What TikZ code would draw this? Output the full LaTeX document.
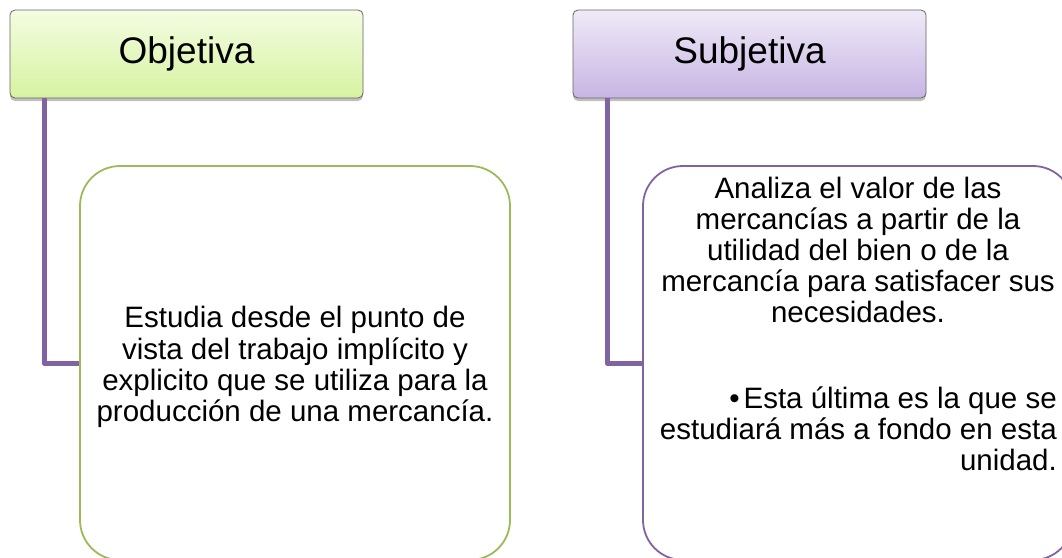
\documentclass[tikz,border=0pt]{standalone}
\usepackage{fontspec}
\setmainfont{Liberation Sans}
\usetikzlibrary{positioning,shadows}

\definecolor{linkpurple}{HTML}{8064A2}
\definecolor{leafgreen}{HTML}{9BBB59}
\definecolor{greentop}{HTML}{F4FCE2}
\definecolor{greenbot}{HTML}{D6F3A0}
\definecolor{purpletop}{HTML}{EFEAF7}
\definecolor{purplebot}{HTML}{C7B5E3}

\tikzset{
  head/.style={draw=black!60, line width=0.8pt, rounded corners=5pt,
    minimum width=353pt, minimum height=88pt, inner sep=0pt,
    font=\fontsize{37}{44}\selectfont,
    drop shadow={shadow xshift=0pt, shadow yshift=-3pt, opacity=0.25, fill=black}},
  leaf/.style={draw, fill=white, line width=1.8pt, rounded corners=40pt,
    minimum width=430pt, minimum height=394pt, inner sep=0pt},
  bodytext/.style={inner sep=0pt, font=\fontsize{29.5}{31.2}\selectfont},
  link/.style={draw=linkpurple, line width=5pt, line join=round}
}

\begin{document}
\begin{tikzpicture}[x=1pt,y=-1pt]
\useasboundingbox (0,0) rectangle (1062,557);

\node[head, top color=greentop, bottom color=greenbot] (obj) at (186.5,54) {Objetiva};
\node[head, top color=purpletop, bottom color=purplebot] (subj) at (749.5,54) {Subjetiva};

\draw[link] ([xshift=34.5pt]obj.south west) |- (295,363);
\draw[link] ([xshift=34.5pt]subj.south west) |- (858,363);

\node[leaf, draw=leafgreen] (objdesc) at (295,363) {};
\node[leaf, draw=linkpurple] (subjdesc) at (858,363) {};

\node[bodytext, align=center] (objtext) at (295,367)
  {Estudia desde el punto de\\vista del trabajo implícito y\\explicito que se utiliza para la\\producción de una mercancía.};
\node[bodytext, align=center] (subjtext) at (858,250)
  {Analiza el valor de las\\mercancías a partir de la\\utilidad del bien o de la\\mercancía para satisfacer sus\\necesidades.};
\node[bodytext, align=right, anchor=east] (subjnote) at (1057,429)
  {•\hspace{4pt}Esta última es la que se\\estudiará más a fondo en esta\\unidad.};

\end{tikzpicture}
\end{document}
